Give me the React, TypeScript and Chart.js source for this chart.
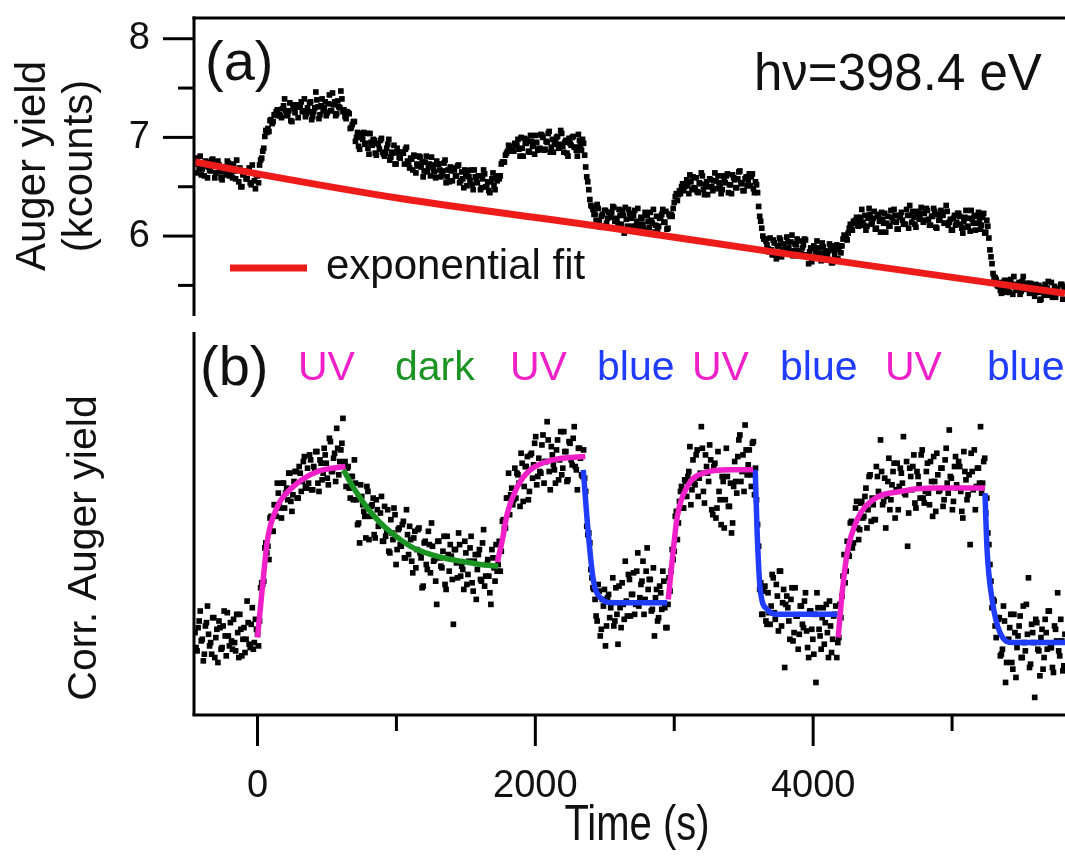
import React, { useEffect, useRef } from "react";
import { Chart, registerables } from "chart.js";

Chart.register(...registerables);

const FONT = "'Liberation Sans', Arial, Helvetica, sans-serif";
const MAGENTA = "#f020c8";
const GREEN = "#1c9424";
const BLUE = "#1f3cff";
const RED = "#ee1b1b";
const INK = "#111111";

// sampling grid of the measurement (s): two interleaved acquisition channels
const T_START = -450;
const T_STEP = 15;
const T_OFFSET_B = 7.5;
const X_MIN = -450;
const X_MAX = 5813;

// axis tick values
const timeTicks = [0, 1000, 2000, 3000, 4000, 5000];
const yieldTicks = [5.5, 6, 6.5, 7, 7.5, 8];

// (a) raw Auger yield (kcounts), channel 1
const augerYield = [
  6.74, 6.79, 6.68, 6.62, 6.71, 6.76, 6.59, 6.67, 6.77, 6.72, 6.64, 6.76, 6.65, 6.57, 6.69, 6.62, 6.74, 6.71, 6.59, 6.66, 6.77, 6.55, 6.50, 6.62, 6.66, 6.58, 6.69, 6.52, 6.64, 6.48, 6.61,
  6.72, 6.79, 6.89, 7.07, 7.09, 7.17, 7.14, 7.23, 7.26, 7.22, 7.22,
  7.29, 7.39, 7.22, 7.27, 7.17, 7.33, 7.25, 7.31, 7.31, 7.36, 7.27, 7.21, 7.30, 7.35, 7.18, 7.26, 7.46, 7.31, 7.23, 7.39, 7.30, 7.22, 7.34, 7.27, 7.45, 7.36, 7.24, 7.31, 7.47, 7.26, 7.21,
  7.26, 7.24, 7.10, 7.16, 6.96, 7.05, 6.88, 7.00, 7.05, 6.94, 6.89, 7.04, 6.92, 6.97, 6.82, 6.93, 6.97, 6.85, 6.81, 6.89, 6.98, 6.80, 6.84, 6.73, 6.89, 6.80, 6.85, 6.84, 6.88, 6.76, 6.69, 6.78, 6.82, 6.64, 6.71, 6.80, 6.75, 6.66, 6.81, 6.70, 6.61, 6.72, 6.65, 6.76, 6.73, 6.60, 6.66, 6.77, 6.60, 6.55, 6.66, 6.69, 6.61, 6.71, 6.54, 6.65, 6.49, 6.61, 6.66, 6.56, 6.52, 6.67, 6.56, 6.61, 6.47, 6.58, 6.63, 6.50, 6.46, 6.55, 6.64, 6.47,
  6.56, 6.58, 6.73, 6.75, 6.82, 6.86, 6.91, 6.88, 6.86,
  6.93, 6.98, 6.81, 6.89, 6.99, 6.94, 6.86, 7.02, 6.91, 6.83, 6.95, 6.88, 7.03, 7.00, 6.88, 6.95, 7.06, 6.90, 6.85, 6.97, 7.01, 6.93, 7.04, 6.85, 6.97, 6.81, 6.94, 7.00, 6.90, 6.87, 7.03, 6.92, 6.98,
  6.82, 6.60, 6.47, 6.31, 6.27,
  6.22, 6.32, 6.15, 6.20, 6.10, 6.26, 6.18, 6.24, 6.24, 6.29, 6.18, 6.12, 6.21, 6.26, 6.03, 6.17, 6.27, 6.22, 6.10, 6.26, 6.15, 6.07, 6.19, 6.12, 6.24, 6.21, 6.09, 6.16, 6.27, 6.11, 6.06, 6.18, 6.22, 6.14, 6.25, 6.08,
  6.20, 6.20, 6.34, 6.43, 6.42, 6.43, 6.53, 6.50,
  6.57, 6.43, 6.55, 6.60, 6.48, 6.45, 6.54, 6.64, 6.47, 6.52, 6.42, 6.58, 6.50, 6.56, 6.56, 6.61, 6.50, 6.47, 6.56, 6.61, 6.44, 6.52, 6.62, 6.57, 6.49, 6.65, 6.54, 6.46, 6.58, 6.51, 6.63, 6.60, 6.48, 6.55,
  6.44, 6.20, 6.08, 5.97, 5.95,
  5.87, 5.98, 5.81, 5.93, 5.77, 5.90, 5.96, 5.86, 5.83, 5.99, 5.88, 5.94, 5.80, 5.92, 5.97, 5.85, 5.82, 5.91, 5.96, 5.79, 5.84, 5.74, 5.90, 5.82, 5.88, 5.88, 5.93, 5.82, 5.76, 5.85, 5.90, 5.73, 5.81, 5.91, 5.86,
  5.83, 5.97, 5.99, 5.96, 6.08, 6.07, 6.15, 6.16, 6.11,
  6.16, 6.27, 6.11, 6.06, 6.18, 6.22, 6.14, 6.25, 6.08, 6.20, 6.04, 6.17, 6.23, 6.13, 6.10, 6.26, 6.15, 6.21, 6.07, 6.19, 6.24, 6.12, 6.12, 6.21, 6.31, 6.14, 6.19, 6.09, 6.25, 6.17, 6.23, 6.23, 6.28, 6.17, 6.11, 6.20, 6.25, 6.08, 6.16, 6.26, 6.21, 6.13, 6.25, 6.14, 6.06, 6.18, 6.11, 6.23, 6.20, 6.08, 6.15, 6.26, 6.10, 6.05, 6.17, 6.21, 6.13, 6.24, 6.07, 6.19, 6.03, 6.16,
  5.98, 5.79, 5.62, 5.58, 5.50,
  5.53, 5.42, 5.51, 5.55, 5.46, 5.43, 5.51, 5.59, 5.45, 5.49, 5.41, 5.54, 5.47, 5.52, 5.52, 5.52, 5.43, 5.39, 5.46, 5.50, 5.36, 5.43, 5.51, 5.47, 5.40, 5.53, 5.44, 5.38, 5.47, 5.42, 5.51, 5.49,
];

// (a) raw Auger yield (kcounts), channel 2 (half a step later)
const augerYieldB = [
  6.64, 6.73, 6.81, 6.68, 6.61, 6.75, 6.70, 6.66, 6.78, 6.59, 6.72, 6.72, 6.59, 6.70, 6.65, 6.76, 6.61, 6.63, 6.73, 6.58, 6.67, 6.69, 6.50, 6.63, 6.58, 6.65, 6.54, 6.72, 6.56, 6.62, 6.54,
  6.77, 6.86, 7.01, 7.05, 7.06, 7.18, 7.16, 7.23, 7.28, 7.23, 7.20,
  7.32, 7.27, 7.23, 7.35, 7.16, 7.29, 7.33, 7.20, 7.31, 7.26, 7.39, 7.24, 7.26, 7.36, 7.21, 7.30, 7.38, 7.19, 7.32, 7.27, 7.36, 7.25, 7.43, 7.27, 7.33, 7.22, 7.37, 7.30, 7.39, 7.28, 7.19,
  7.25, 7.09, 7.13, 7.16, 7.00, 6.91, 7.04, 6.98, 6.93, 7.04, 6.83, 6.95, 6.98, 6.84, 6.94, 6.88, 6.99, 6.83, 6.84, 6.93, 6.77, 6.85, 6.92, 6.73, 6.85, 6.79, 6.85, 6.73, 6.90, 6.73, 6.79, 6.67, 6.81, 6.73, 6.81, 6.70, 6.60, 6.75, 6.65, 6.73, 6.80, 6.67, 6.59, 6.73, 6.67, 6.62, 6.74, 6.54, 6.67, 6.70, 6.56, 6.67, 6.61, 6.72, 6.56, 6.58, 6.67, 6.51, 6.60, 6.67, 6.47, 6.60, 6.54, 6.61, 6.49, 6.67, 6.50, 6.55, 6.44, 6.58, 6.51, 6.61,
  6.59, 6.61, 6.75, 6.75, 6.84, 6.92, 6.87, 6.86, 6.94,
  6.92, 6.88, 7.00, 6.81, 6.94, 6.98, 6.85, 6.96, 6.91, 7.02, 6.87, 6.89, 7.02, 6.87, 6.96, 7.04, 6.85, 6.98, 6.93, 7.00, 6.89, 7.07, 6.91, 6.95, 6.84, 6.99, 6.92, 7.01, 6.90, 6.81, 6.97, 6.87, 6.94,
  6.70, 6.55, 6.37, 6.30, 6.22,
  6.16, 6.28, 6.09, 6.22, 6.26, 6.13, 6.24, 6.19, 6.30, 6.15, 6.17, 6.27, 6.12, 6.21, 6.29, 6.10, 6.23, 6.18, 6.21, 6.10, 6.28, 6.12, 6.18, 6.07, 6.22, 6.15, 6.24, 6.13, 6.04, 6.20, 6.10, 6.19, 6.27, 6.14, 6.07, 6.22,
  6.22, 6.28, 6.40, 6.36, 6.46, 6.50, 6.46, 6.53,
  6.51, 6.62, 6.47, 6.49, 6.59, 6.44, 6.53, 6.61, 6.42, 6.55, 6.50, 6.57, 6.46, 6.64, 6.48, 6.54, 6.43, 6.61, 6.54, 6.63, 6.52, 6.43, 6.59, 6.49, 6.58, 6.66, 6.53, 6.46, 6.60, 6.55, 6.51, 6.63, 6.44, 6.52,
  6.30, 6.15, 6.00, 5.97, 5.91,
  5.84, 5.86, 5.96, 5.81, 5.90, 5.98, 5.79, 5.92, 5.87, 5.94, 5.83, 6.01, 5.85, 5.91, 5.80, 5.95, 5.88, 5.97, 5.81, 5.72, 5.88, 5.78, 5.87, 5.95, 5.82, 5.75, 5.89, 5.84, 5.80, 5.92, 5.73, 5.86, 5.90, 5.77, 5.90,
  5.90, 6.01, 5.98, 6.03, 6.12, 6.06, 6.13, 6.19, 6.10,
  6.19, 6.14, 6.21, 6.10, 6.28, 6.12, 6.18, 6.07, 6.22, 6.15, 6.24, 6.13, 6.04, 6.20, 6.10, 6.19, 6.27, 6.14, 6.07, 6.21, 6.16, 6.12, 6.27, 6.08, 6.21, 6.25, 6.12, 6.23, 6.18, 6.29, 6.14, 6.16, 6.26, 6.11, 6.20, 6.28, 6.09, 6.22, 6.17, 6.24, 6.13, 6.31, 6.11, 6.17, 6.06, 6.21, 6.14, 6.23, 6.12, 6.03, 6.19, 6.09, 6.18, 6.26, 6.13, 6.06, 6.20, 6.15, 6.11, 6.23, 6.04, 6.10,
  5.86, 5.72, 5.58, 5.56, 5.49,
  5.45, 5.47, 5.55, 5.43, 5.50, 5.56, 5.41, 5.51, 5.47, 5.53, 5.44, 5.59, 5.46, 5.51, 5.42, 5.50, 5.44, 5.51, 5.43, 5.35, 5.48, 5.40, 5.47, 5.54, 5.43, 5.38, 5.49, 5.45, 5.42, 5.51, 5.36, 5.47,
];

// (b) corrected Auger yield (% of exponential fit), channel 1
const corrYield = [
  99.9, 98.8, 100.6, 99.4, 98.2, 100.3, 101.5, 99.1, 98.6, 100.8, 99.6, 98.1, 100.2, 99.0, 101.2, 98.5, 99.7, 100.5, 98.9, 99.3, 101.0, 98.4, 100.1, 99.5, 98.7, 101.8, 99.2, 100.4, 98.9, 100.7, 99.8,
  100.6, 102.9, 103.0, 105.3, 105.1, 106.8, 106.0, 107.6, 106.9, 108.3, 107.4,
  108.9, 107.4, 108.6, 109.5, 107.8, 108.2, 109.6, 108.0, 109.9, 108.4, 110.2, 108.7, 109.8, 110.6, 108.5, 109.9, 110.8, 108.9, 110.3, 109.1, 111.0, 110.1, 108.8, 111.4, 109.6, 110.7, 112.2, 109.4, 110.9, 112.8, 110.2,
  109.8, 108.6, 109.3, 107.9, 108.9, 106.4, 105.3, 108.1, 107.2, 105.6, 108.4, 106.9, 107.6, 105.8, 107.9, 106.3, 107.1, 105.4, 107.5, 106.0, 104.8, 106.7, 105.5, 107.0, 104.9, 106.2, 105.1, 106.6, 104.4, 105.8, 106.3, 104.2, 105.6, 103.8, 106.1, 104.7, 102.6, 105.3, 104.0, 106.0, 103.5, 105.1, 104.3, 101.6, 105.4, 103.9, 104.8, 102.8, 105.7, 103.6, 104.5, 100.4, 104.9, 103.2, 105.2, 103.9, 102.5, 104.7, 103.4, 105.0, 102.9, 104.2, 101.9, 104.6, 103.1, 105.3, 102.7, 104.0, 103.3, 101.6, 104.4, 103.0,
  103.6, 105.4, 104.8, 106.7, 106.2, 108.0, 107.0, 108.6, 107.9,
  108.0, 109.4, 107.5, 110.1, 108.7, 109.9, 107.9, 110.6, 109.2, 111.3, 108.8, 110.4, 109.5, 111.8, 110.2, 112.6, 109.6, 111.1, 110.0, 108.9, 111.5, 110.3, 109.4, 112.0, 110.8, 109.1, 111.3, 110.0, 112.3, 109.7, 111.0, 110.4, 109.3,
  109.2, 106.3, 105.9, 103.7, 102.6,
  101.9, 100.6, 102.4, 100.1, 101.5, 99.1, 102.0, 100.8, 101.7, 100.3, 102.6, 99.2, 101.4, 102.9, 100.7, 101.8, 103.4, 100.9, 102.2, 101.0, 103.6, 101.5, 102.8, 104.2, 101.9, 105.0, 103.1, 101.2, 103.8, 102.0, 100.6, 102.7, 101.3, 103.0, 100.2, 101.6,
  102.4, 104.9, 104.8, 107.2, 106.5, 108.4, 107.4, 109.1,
  108.1, 109.6, 107.6, 110.3, 108.8, 110.9, 109.2, 112.3, 108.4, 110.6, 109.5, 111.2, 107.3, 109.9, 106.8, 110.8, 107.9, 109.3, 106.2, 111.0, 107.5, 108.9, 106.5, 110.2, 108.3, 111.5, 109.0, 110.6, 112.4, 109.4, 110.9, 108.7, 111.4, 109.8,
  106.4, 102.5, 101.0, 102.4, 100.6,
  102.3, 100.4, 103.4, 101.1, 102.8, 100.0, 103.6, 101.7, 97.8, 102.1, 100.6, 101.9, 99.4, 102.6, 100.9, 99.8, 101.5, 100.2, 102.3, 99.0, 101.2, 100.1, 98.6, 96.9, 101.4, 99.7, 100.8, 99.2, 101.6, 98.4, 100.3, 99.5, 101.0, 98.4, 99.6,
  100.8, 103.3, 102.9, 105.4, 104.5, 106.6, 105.3, 107.4, 106.2,
  106.1, 107.8, 106.9, 108.6, 107.3, 109.4, 108.0, 106.7, 109.9, 108.4, 111.5, 107.6, 109.2, 108.1, 110.4, 107.9, 109.6, 106.8, 110.1, 108.7, 109.5, 111.7, 108.2, 105.1, 109.8, 108.5, 110.6, 107.4, 109.3, 108.0, 110.9, 107.7, 109.6, 108.3, 110.2, 106.9, 109.0, 110.7, 108.4, 109.8, 107.5, 110.3, 108.9, 112.1, 109.2, 107.8, 110.5, 108.6, 109.9, 107.2, 110.8, 109.1, 108.2, 105.2, 109.6, 110.9, 108.7, 109.8, 112.3, 108.9, 110.4, 108.0,
  105.2, 103.0, 101.9, 100.3, 100.8,
  100.8, 98.6, 101.5, 96.9, 99.4, 100.2, 98.1, 101.0, 97.2, 99.7, 100.9, 98.4, 99.3, 101.6, 103.2, 98.0, 99.9, 96.0, 100.5, 98.8, 99.6, 97.7, 100.7, 98.9, 101.2, 99.0, 97.5, 100.1, 102.3, 98.5, 99.4, 97.9,
];

// (b) corrected Auger yield (% of exponential fit), channel 2
const corrYieldB = [
  99.0, 100.2, 101.2, 99.5, 98.6, 100.5, 99.8, 99.3, 100.8, 98.4, 100.1, 100.6, 98.9, 100.3, 99.7, 101.1, 99.1, 99.4, 100.7, 98.8, 99.9, 101.0, 98.5, 100.2, 99.5, 100.5, 99.0, 101.4, 99.3, 100.1, 99.1,
  102.6, 102.8, 105.0, 104.7, 104.3, 106.9, 106.0, 107.6, 108.9, 107.5, 106.8,
  108.9, 108.3, 107.9, 109.5, 107.2, 109.0, 109.6, 108.0, 109.5, 109.0, 110.5, 108.6, 108.9, 110.3, 108.5, 109.6, 110.8, 108.4, 110.1, 109.5, 110.6, 109.2, 111.6, 109.6, 110.4, 109.0, 111.0, 110.2, 111.3, 109.9, 108.7,
  109.9, 108.0, 109.3, 110.3, 107.9, 106.5, 108.8, 107.6, 106.9, 108.7, 105.5, 107.5, 108.0, 105.6, 107.3, 106.4, 108.1, 105.4, 105.7, 107.3, 104.7, 105.9, 107.4, 104.0, 106.1, 105.2, 106.4, 104.4, 107.3, 104.6, 105.5, 103.5, 106.0, 104.9, 106.2, 104.4, 102.7, 105.4, 103.7, 105.2, 106.5, 104.2, 103.0, 105.4, 104.4, 103.8, 105.7, 102.5, 104.6, 105.2, 103.1, 104.9, 104.1, 105.9, 103.3, 103.7, 105.4, 102.8, 104.2, 105.7, 102.4, 104.6, 103.7, 104.9, 103.0, 106.1, 103.3, 104.3, 102.3, 104.9, 103.8, 105.2,
  104.0, 103.6, 106.6, 106.2, 108.0, 109.5, 108.2, 107.6, 109.8,
  109.5, 108.9, 110.7, 107.8, 109.9, 110.5, 108.4, 110.7, 110.0, 111.7, 109.3, 109.6, 111.2, 108.9, 110.2, 111.5, 108.5, 110.6, 109.7, 110.9, 109.1, 112.0, 109.8, 110.8, 109.0, 111.4, 110.3, 111.6, 109.9, 108.5, 111.0, 109.4, 110.9,
  108.4, 105.8, 105.3, 103.2, 102.5,
  100.9, 102.8, 99.7, 101.9, 102.5, 100.3, 102.2, 101.4, 103.2, 100.6, 101.0, 102.7, 100.2, 101.6, 104.2, 100.9, 103.1, 102.2, 103.5, 101.6, 104.7, 102.0, 103.0, 101.0, 103.6, 102.5, 103.1, 101.3, 99.7, 102.5, 100.8, 102.3, 103.6, 101.4, 100.2, 103.2,
  103.6, 104.3, 106.9, 105.5, 107.8, 108.7, 107.4, 109.0,
  109.3, 111.1, 108.5, 108.9, 110.6, 108.1, 109.5, 111.0, 107.7, 109.9, 109.0, 110.3, 107.0, 110.1, 107.4, 108.4, 106.4, 109.0, 107.9, 109.3, 107.5, 105.9, 108.7, 109.0, 110.5, 111.8, 109.6, 108.4, 110.9, 110.0, 109.4, 111.3, 108.2, 107.9,
  105.1, 102.9, 101.0, 102.7, 100.4,
  101.1, 101.5, 103.2, 100.7, 102.1, 103.6, 100.3, 102.5, 101.6, 101.4, 99.5, 102.6, 99.9, 100.9, 98.9, 101.5, 100.4, 101.8, 100.0, 98.4, 101.2, 99.5, 101.0, 102.3, 100.1, 98.9, 101.4, 100.5, 99.9, 101.8, 98.7, 100.9, 101.5, 99.3, 101.6,
  102.1, 104.6, 103.6, 104.6, 106.5, 105.0, 106.5, 107.8, 105.5,
  107.7, 106.8, 108.1, 106.2, 109.3, 106.6, 107.6, 106.7, 109.3, 108.2, 109.6, 107.8, 106.2, 109.0, 107.3, 108.8, 110.1, 108.5, 107.3, 109.8, 108.9, 108.3, 110.2, 107.1, 109.3, 109.9, 107.7, 109.6, 108.8, 110.6, 108.0, 108.4, 110.1, 107.6, 109.0, 110.5, 107.2, 109.4, 108.5, 109.8, 107.9, 111.0, 108.3, 109.3, 107.3, 109.9, 108.8, 110.2, 108.4, 106.8, 109.6, 107.9, 109.4, 110.7, 108.5, 107.3, 109.8, 108.9, 108.3, 110.2, 107.1, 105.9,
  104.0, 101.4, 101.8, 99.6, 100.7,
  98.5, 98.9, 100.6, 98.1, 99.5, 101.0, 97.7, 99.9, 99.0, 100.3, 98.4, 101.5, 98.8, 99.8, 97.8, 100.4, 99.3, 100.7, 98.9, 97.3, 100.1, 98.4, 99.9, 101.2, 99.0, 97.8, 100.3, 99.4, 98.8, 100.7, 97.6, 99.8,
];

// (a) exponential fit
const expFitTime = [-450, 0, 1030, 2560, 3760, 5813];
const expFitYield = [6.75, 6.63, 6.38, 6.08, 5.83, 5.42];

// (b) kinetic fits
const uv1Time = [0, 43, 72, 144, 259, 432, 633];
const uv1Fit = [99.6, 103.3, 105.5, 107.5, 108.7, 109.6, 109.9];
const darkTime = [619, 700, 791, 885, 1029, 1122, 1250, 1367, 1500, 1604, 1734];
const darkFit = [109.7, 108.5, 107.4, 106.5, 105.5, 105.0, 104.6, 104.35, 104.15, 104.0, 103.9];
const uv2Time = [1727, 1763, 1799, 1871, 1964, 2130, 2360];
const uv2Fit = [104.15, 105.5, 107.1, 108.7, 109.7, 110.3, 110.5];
const blue1Time = [2345, 2381, 2417, 2468, 2561, 2950];
const blue1Fit = [109.7, 105.9, 103.1, 102.0, 101.7, 101.7];
const uv3Time = [2957, 2986, 3022, 3094, 3209, 3403, 3568];
const uv3Fit = [101.9, 104.3, 106.9, 108.7, 109.5, 109.7, 109.7];
const blue2Time = [3583, 3597, 3619, 3669, 3741, 4173];
const blue2Fit = [109.7, 105.9, 102.5, 101.3, 101.0, 101.0];
const uv4Time = [4180, 4209, 4245, 4317, 4432, 4626, 4863, 5237];
const uv4Fit = [99.6, 102.3, 104.7, 106.7, 107.9, 108.4, 108.6, 108.6];
const blue3Time = [5237, 5252, 5288, 5345, 5439, 5813];
const blue3Fit = [108.3, 104.9, 101.9, 99.9, 99.3, 99.3];

// illumination labels of panel (b)
const stepLabels = ["UV", "dark", "UV", "blue", "UV", "blue", "UV", "blue"];
const stepColors = [MAGENTA, GREEN, MAGENTA, BLUE, MAGENTA, BLUE, MAGENTA, BLUE];
const stepLabelLeft = [298, 395, 510, 597, 692, 780, 885, 987];

const sampleTimes = augerYield.map((_, i) => T_START + i * T_STEP);
const sampleTimesB = augerYieldB.map((_, i) => T_START + T_OFFSET_B + i * T_STEP);
const toPts = (ts: number[], vs: number[]) => vs.map((v, i) => ({ x: ts[i], y: v }));

const LEFT = 195;

function txt(ctx: CanvasRenderingContext2D, s: string, x: number, y: number, size: number, color: string, align: CanvasTextAlign = "left") {
  ctx.font = `${size}px ${FONT}`;
  ctx.fillStyle = color;
  ctx.textAlign = align;
  ctx.textBaseline = "alphabetic";
  ctx.fillText(s, x, y);
}

function vtxt(ctx: CanvasRenderingContext2D, s: string, x: number, y: number, size: number) {
  ctx.save();
  ctx.translate(x, y);
  ctx.rotate(-Math.PI / 2);
  txt(ctx, s, 0, 0, size, INK, "center");
  ctx.restore();
}

function line(ctx: CanvasRenderingContext2D, x1: number, y1: number, x2: number, y2: number) {
  ctx.beginPath();
  ctx.moveTo(x1, y1);
  ctx.lineTo(x2, y2);
  ctx.stroke();
}

const panelAPlugin = {
  id: "panelADecor",
  afterDraw(chart: any) {
    const { ctx, chartArea: a } = chart;
    const ys = chart.scales.y;
    ctx.save();
    ctx.strokeStyle = "#000";
    ctx.lineWidth = 3;
    ctx.lineCap = "butt";
    line(ctx, a.left - 2.5, a.top, a.right, a.top);
    line(ctx, a.left - 1, a.top - 1.5, a.left - 1, a.bottom + 1);
    for (const t of ys.ticks) {
      const py = ys.getPixelForValue(t.value);
      const len = Number.isInteger(t.value) ? 31 : 16;
      line(ctx, a.left - 1 - len, py, a.left - 1, py);
    }
    txt(ctx, "(a)", 205, 80, 56, INK);
    txt(ctx, "h\u03BD=398.4 eV", 754, 90, 51, INK);
    ctx.strokeStyle = RED;
    ctx.lineWidth = 7;
    line(ctx, 230, 268, 307, 268);
    txt(ctx, "exponential fit", 326, 279, 42, INK);
    vtxt(ctx, "Auger yield", 45, 166, 42);
    vtxt(ctx, "(kcounts)", 92, 166, 42);
    ctx.restore();
  },
};

const B_TOP = 325;

const panelBPlugin = {
  id: "panelBDecor",
  afterDraw(chart: any) {
    const { ctx, chartArea: a } = chart;
    const xs = chart.scales.x;
    ctx.save();
    ctx.strokeStyle = "#000";
    ctx.lineWidth = 3;
    ctx.lineCap = "butt";
    line(ctx, a.left - 1, a.top, a.left - 1, a.bottom + 1.5);
    line(ctx, a.left - 2.5, a.bottom + 1, a.right, a.bottom + 1);
    for (const t of xs.ticks) {
      const px = xs.getPixelForValue(t.value);
      const len = t.value % 2000 === 0 ? 31 : 16;
      line(ctx, px, a.bottom + 1, px, a.bottom + 1 + len);
    }
    txt(ctx, "(b)", 200, 385 - B_TOP, 56, INK);
    stepLabels.forEach((s, i) => txt(ctx, s, stepLabelLeft[i], 380 - B_TOP, 41, stepColors[i]));
    vtxt(ctx, "Corr. Auger yield", 96, 548 - B_TOP, 41);
    ctx.save();
    ctx.translate(637, 840 - B_TOP);
    ctx.scale(1, 1.23);
    txt(ctx, "Time (s)", 0, 0, 40, INK, "center");
    ctx.restore();
    ctx.restore();
  },
};

const fitLine = (ts: number[], vs: number[], color: string, width: number) => ({
  data: toPts(ts, vs),
  borderColor: color,
  borderWidth: width,
  pointRadius: 0,
  cubicInterpolationMode: "monotone" as const,
  fill: false,
  order: 1,
});

const dots = (ts: number[], vs: number[]) => ({
  data: toPts(ts, vs),
  showLine: false,
  pointStyle: "rect" as const,
  pointRadius: 4,
  pointBackgroundColor: "#000",
  pointBorderColor: "#000",
  pointBorderWidth: 0,
  order: 2,
});

export default function App() {
  const refA = useRef<HTMLCanvasElement>(null);
  const refB = useRef<HTMLCanvasElement>(null);

  useEffect(() => {
    const chartA = new Chart(refA.current as HTMLCanvasElement, {
      type: "line",
      data: {
        datasets: [
          fitLine(expFitTime, expFitYield, RED, 7),
          dots(sampleTimes, augerYield),
          dots(sampleTimesB, augerYieldB),
        ] as any,
      },
      options: {
        animation: false,
        responsive: false,
        events: [],
        layout: { padding: { top: 18, bottom: 10, left: 0, right: 0 }, autoPadding: false },
        plugins: { legend: { display: false }, tooltip: { enabled: false } },
        scales: {
          x: { type: "linear", min: X_MIN, max: X_MAX, display: false },
          y: {
            type: "linear",
            min: 5.2,
            max: 8.21,
            grid: { display: false, drawTicks: true, tickLength: 30 },
            border: { display: false },
            afterBuildTicks: (s: any) => {
              s.ticks = yieldTicks.map((v) => ({ value: v }));
            },
            ticks: {
              autoSkip: false,
              padding: 15,
              color: INK,
              font: { size: 38, family: FONT },
              callback: (v: any) => (Number.isInteger(v) ? String(v) : ""),
            },
            afterFit: (s: any) => {
              s.width = LEFT;
              s.paddingTop = 0;
              s.paddingBottom = 0;
            },
          },
        },
      } as any,
      plugins: [panelAPlugin],
    });

    const chartB = new Chart(refB.current as HTMLCanvasElement, {
      type: "line",
      data: {
        datasets: [
          fitLine(uv1Time, uv1Fit, MAGENTA, 5.5),
          fitLine(darkTime, darkFit, GREEN, 5.5),
          fitLine(uv2Time, uv2Fit, MAGENTA, 5.5),
          fitLine(blue1Time, blue1Fit, BLUE, 5.5),
          fitLine(uv3Time, uv3Fit, MAGENTA, 5.5),
          fitLine(blue2Time, blue2Fit, BLUE, 5.5),
          fitLine(uv4Time, uv4Fit, MAGENTA, 5.5),
          fitLine(blue3Time, blue3Fit, BLUE, 5.5),
          dots(sampleTimes, corrYield),
          dots(sampleTimesB, corrYieldB),
        ] as any,
      },
      options: {
        animation: false,
        responsive: false,
        events: [],
        layout: { padding: { top: 7, bottom: 0, left: 0, right: 0 }, autoPadding: false },
        plugins: { legend: { display: false }, tooltip: { enabled: false } },
        scales: {
          x: {
            type: "linear",
            min: X_MIN,
            max: X_MAX,
            grid: { display: false, drawTicks: true, tickLength: 30 },
            border: { display: false },
            afterBuildTicks: (s: any) => {
              s.ticks = timeTicks.map((v) => ({ value: v }));
            },
            ticks: {
              autoSkip: false,
              maxRotation: 0,
              padding: 20,
              color: INK,
              font: { size: 38, family: FONT },
              callback: (v: any) => (v % 2000 === 0 ? String(v) : ""),
            },
            afterFit: (s: any) => {
              s.height = 145;
              s.paddingLeft = 0;
              s.paddingRight = 0;
            },
          },
          y: {
            type: "linear",
            min: 95,
            max: 118,
            grid: { display: false, drawTicks: false },
            border: { display: false },
            ticks: { display: false },
            afterFit: (s: any) => {
              s.width = LEFT;
              s.paddingTop = 0;
              s.paddingBottom = 0;
            },
          },
        },
      } as any,
      plugins: [panelBPlugin],
    });

    return () => {
      chartA.destroy();
      chartB.destroy();
    };
  }, []);

  return (
    <div style={{ position: "absolute", left: 0, top: 0, width: 1065, height: 859, overflow: "hidden", background: "#fff" }}>
      <canvas ref={refA} width={1065} height={325} style={{ position: "absolute", left: 0, top: 0, width: 1065, height: 325, display: "block" }} />
      <canvas ref={refB} width={1065} height={534} style={{ position: "absolute", left: 0, top: B_TOP, width: 1065, height: 534, display: "block" }} />
    </div>
  );
}
